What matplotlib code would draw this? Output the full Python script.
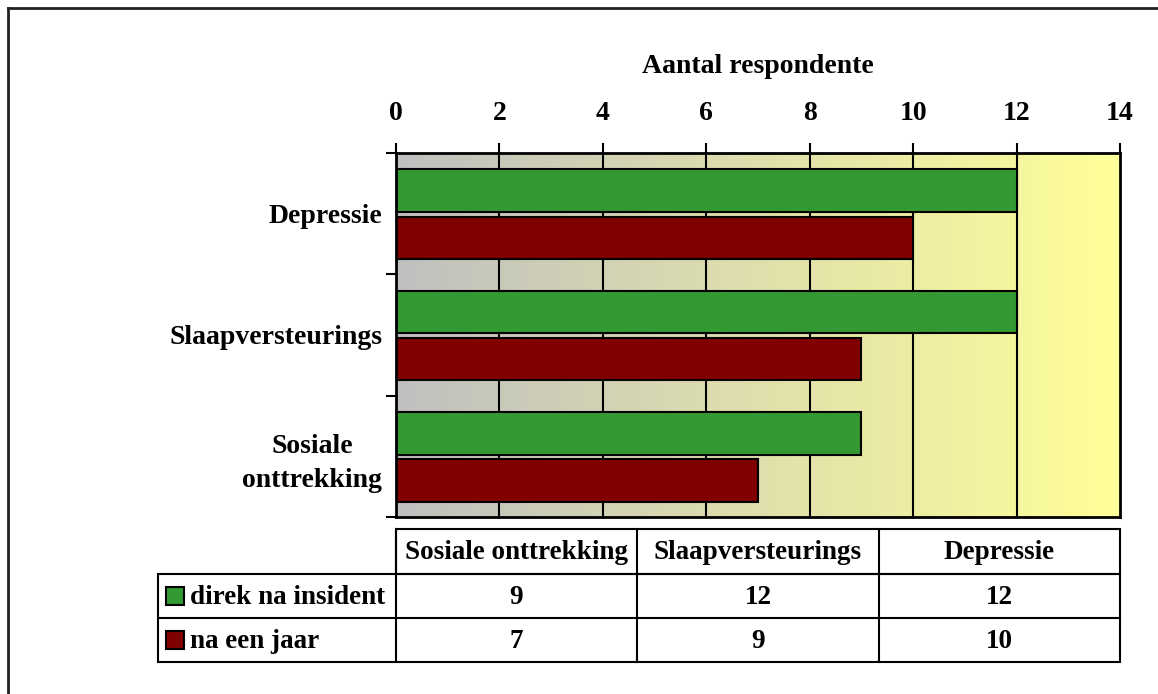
import numpy as np
import matplotlib
matplotlib.use("Agg")
import matplotlib.pyplot as plt
from matplotlib.patches import Rectangle

plt.rcParams["font.family"] = ["Liberation Serif", "DejaVu Serif"]
plt.rcParams["font.weight"] = "bold"

# data (top to bottom in the chart)
categories = ["Depressie", "Slaapversteurings", "Sosiale\nonttrekking"]
direk = [12, 12, 9]
na_jaar = [10, 9, 7]
series_names = ["direk na insident", "na een jaar"]
table_cols = ["Sosiale onttrekking", "Slaapversteurings", "Depressie"]
xticks = [0, 2, 4, 6, 8, 10, 12, 14]

GREEN = "#339933"
RED = "#800000"
W, H = 1158, 694
FS = 20
FS_T = 19.5

fig = plt.figure(figsize=(W / 100, H / 100), dpi=100)

# plot area in pixel coords -> figure fractions
x0, x1, y0, y1 = 396, 1120, 153, 517
ax = fig.add_axes([x0 / W, 1 - y1 / H, (x1 - x0) / W, (y1 - y0) / H])
ax.set_xlim(0, 14)
ax.set_ylim(3, 0)

# gray -> yellow horizontal gradient background
grad = np.linspace(0, 1, 256)[None, :, None]
c0 = np.array([192, 192, 192]) / 255
c1 = np.array([255, 255, 153]) / 255
img = c0 + (c1 - c0) * grad
ax.imshow(img, extent=[0, 14, 3, 0], aspect="auto", zorder=0, interpolation="bilinear")
for v in xticks[1:-1]:
    ax.axvline(v, color="black", lw=1.5, zorder=1)

ypos = np.arange(len(categories)) + 0.5
bh = 0.35
ax.barh(ypos - 0.19, direk, height=bh, color=GREEN, edgecolor="black", lw=1.5, zorder=2)
ax.barh(ypos + 0.2, na_jaar, height=bh, color=RED, edgecolor="black", lw=1.5, zorder=2)

ax.xaxis.tick_top()
ax.xaxis.set_label_position("top")
ax.set_xticks(xticks)
ax.set_xticklabels([str(t) for t in xticks], fontsize=FS, fontweight="bold")
ax.tick_params(axis="x", direction="out", length=7, width=1.5, pad=12.5)
ax.set_xlabel("Aantal respondente", fontsize=FS, fontweight="bold", labelpad=20)

ax.set_yticks([0, 1, 2, 3])
ax.set_yticklabels([])
ax.tick_params(axis="y", direction="out", length=7, width=1.5)
ax.set_yticks(ypos, minor=True)
ax.set_yticklabels(categories, minor=True, fontsize=FS, fontweight="bold",
                   multialignment="center", linespacing=1.45)
ax.tick_params(axis="y", which="minor", length=0, pad=10)
for s in ax.spines.values():
    s.set_linewidth(2)

# overlay in pixel coordinates for data table and outer frame
ov = fig.add_axes([0, 0, 1, 1], zorder=5)
ov.set_xlim(0, W)
ov.set_ylim(H, 0)
ov.axis("off")
ov.patch.set_alpha(0)

ov.plot([8, 8], [8, H + 5], color="#222222", lw=2, clip_on=False)
ov.plot([8, W + 5], [8, 8], color="#222222", lw=2, clip_on=False)

colx = [158, 396, 637, 879, 1120]
rowy = [529, 574, 618, 662]
lw = 1.5
# header row
ov.add_patch(Rectangle((colx[1], rowy[0]), colx[-1] - colx[1], rowy[1] - rowy[0],
                       fill=False, ec="black", lw=lw))
for i, name in enumerate(table_cols):
    xc = (colx[i + 1] + colx[i + 2]) / 2
    ov.text(xc, (rowy[0] + rowy[1]) / 2 + 1, name, ha="center", va="center",
            fontsize=FS_T, fontweight="bold")
    ov.plot([colx[i + 1]] * 2, [rowy[0], rowy[-1]], color="black", lw=lw)
ov.add_patch(Rectangle((colx[0], rowy[1]), colx[-1] - colx[0], rowy[-1] - rowy[1],
                       fill=False, ec="black", lw=lw))
ov.plot([colx[0], colx[-1]], [rowy[2], rowy[2]], color="black", lw=lw)

# table values: columns in reversed category order
rows = [direk[::-1], na_jaar[::-1]]
for r, (name, vals, col) in enumerate(zip(series_names, rows, [GREEN, RED])):
    yc = (rowy[r + 1] + rowy[r + 2]) / 2
    ov.add_patch(Rectangle((166, yc - 9), 18, 18, fc=col, ec="black", lw=1.5))
    ov.text(190, yc + 1, name, ha="left", va="center", fontsize=FS_T, fontweight="bold")
    for i, v in enumerate(vals):
        xc = (colx[i + 1] + colx[i + 2]) / 2
        ov.text(xc, yc + 1, str(v), ha="center", va="center", fontsize=FS_T,
                fontweight="bold")

fig.savefig("out.png", dpi=100, facecolor="white")
